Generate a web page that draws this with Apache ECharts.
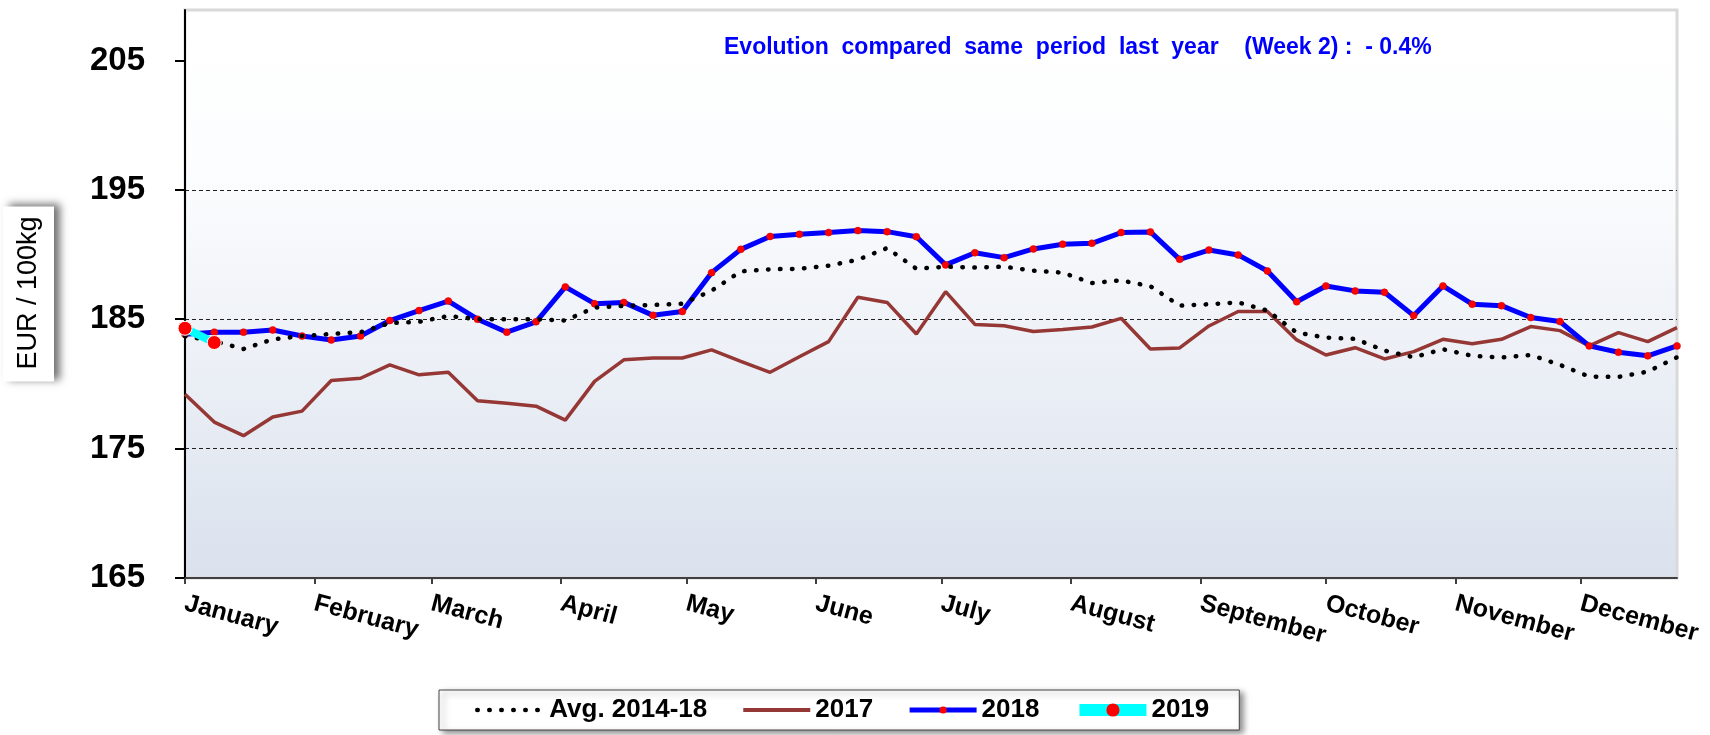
<!DOCTYPE html>
<html>
<head>
<meta charset="utf-8">
<title>EUR / 100kg</title>
<script src="https://cdn.jsdelivr.net/npm/echarts@6/dist/echarts.min.js"></script>
<style>
  html, body { margin: 0; padding: 0; background: #fff; }
  #chart { width: 1710px; height: 735px; }
</style>
</head>
<body>
<div id="chart"></div>
<script>
// weekly prices EUR / 100kg, week 1 .. 52
var avg1418 = [183.7, 183.3, 182.7, 183.45, 183.7, 183.86, 184.0, 184.7, 184.8, 185.25,
  185.0, 185.0, 185.0, 184.9, 185.9, 186.03, 186.1, 186.2, 187.2, 188.7,
  188.86, 188.9, 189.14, 189.6, 190.5, 188.9, 189.06, 189.0, 189.06, 188.75,
  188.6, 187.8, 188.0, 187.55, 186.05, 186.16, 186.3, 185.67, 183.97, 183.58,
  183.48, 182.58, 182.06, 182.68, 182.17, 182.04, 182.24, 181.47, 180.57, 180.54,
  180.95, 182.06];
var y2017 = [179.2, 177.05, 176.0, 177.45, 177.9, 180.26, 180.44, 181.47, 180.7, 180.9,
  178.7, 178.5, 178.28, 177.2, 180.2, 181.86, 182.0, 182.0, 182.63, 181.75,
  180.9, 182.1, 183.27, 186.7, 186.3, 183.86, 187.13, 184.6, 184.5, 184.05,
  184.2, 184.4, 185.07, 182.7, 182.78, 184.48, 185.6, 185.6, 183.4, 182.24,
  182.8, 181.93, 182.5, 183.45, 183.1, 183.45, 184.43, 184.12, 182.94, 183.97,
  183.27, 184.35];
var y2018 = [183.84, 184.0, 184.0, 184.17, 183.7, 183.4, 183.7, 184.9, 185.67, 186.4,
  185.0, 184.0, 184.8, 187.5, 186.2, 186.3, 185.3, 185.6, 188.6, 190.4,
  191.4, 191.56, 191.7, 191.85, 191.77, 191.38, 189.2, 190.14, 189.76, 190.43,
  190.8, 190.87, 191.7, 191.75, 189.63, 190.35, 189.97, 188.73, 186.35, 187.57,
  187.19, 187.08, 185.28, 187.57, 186.16, 186.05, 185.13, 184.82, 182.94, 182.45,
  182.17, 182.94];
var y2019 = [184.3, 183.2];

var monthNames = ['January', 'February', 'March', 'April', 'May', 'June',
  'July', 'August', 'September', 'October', 'November', 'December'];
var monthStartDay = [0, 31, 59, 90, 120, 151, 181, 212, 243, 273, 304, 334];
var yTicks = [165, 175, 185, 195, 205];

var FONT = 'Liberation Sans, Arial, sans-serif';

// x axis runs in weeks, month ticks at the first day of each month
var monthPos = monthStartDay.map(function (d) { return d / 7; });
var toPoints = function (arr) {
  return arr.map(function (v, i) { return [i, v]; });
};

var chart = echarts.init(document.getElementById('chart'));

chart.setOption({
  animation: false,
  title: {
    text: 'Evolution  compared  same  period  last  year    (Week 2) :  - 0.4%',
    left: 719,
    top: 31,
    textStyle: { color: '#0000ff', fontSize: 23, fontWeight: 'bold', fontFamily: FONT }
  },
  legend: {
    // legend icons: hide the point on the plain lines, size the dots with a border
    data: [
      { name: 'Avg. 2014-18', itemStyle: { opacity: 0 }, lineStyle: { width: 4.5 } },
      { name: '2017', itemStyle: { opacity: 0 }, lineStyle: { width: 4 } },
      { name: '2018', itemStyle: { borderWidth: 0 }, lineStyle: { width: 5 } },
      { name: '2019', itemStyle: { borderColor: '#ff0000', borderWidth: 6 }, lineStyle: { width: 12 } }
    ],
    left: 439,
    top: 690,
    padding: [7, 30, 7, 36],
    itemGap: 34,
    itemWidth: 67,
    itemHeight: 9,
    backgroundColor: '#fff',
    borderColor: '#444',
    borderWidth: 1,
    shadowColor: 'rgba(0,0,0,0.45)',
    shadowBlur: 6,
    shadowOffsetX: 4,
    shadowOffsetY: 3,
    textStyle: { color: '#000', fontSize: 26, fontWeight: 'bold', fontFamily: FONT }
  },
  grid: {
    left: 185,
    right: 33,
    top: 10,
    bottom: 157,
    outerBoundsMode: 'none',
    show: true,
    borderColor: '#d9d9d9',
    borderWidth: 3,
    backgroundColor: new echarts.graphic.LinearGradient(0, 0, 0, 1, [
      { offset: 0, color: '#ffffff' },
      { offset: 0.28, color: '#fcfdfe' },
      { offset: 1, color: '#dae1ed' }
    ])
  },
  xAxis: {
    type: 'value',
    min: 0,
    max: 51,
    splitLine: { show: false },
    axisLine: { show: true, lineStyle: { color: '#404040', width: 2 } },
    axisTick: { show: true, length: 6, customValues: monthPos, lineStyle: { color: '#404040', width: 2 } },
    axisLabel: {
      customValues: monthPos,
      rotate: -15,
      margin: 25,
      color: '#000',
      fontSize: 25,
      fontWeight: 'bold',
      fontFamily: FONT,
      formatter: function (v) {
        for (var i = 0; i < monthPos.length; i++) {
          if (Math.abs(monthPos[i] - v) < 1e-6) return monthNames[i];
        }
        return '';
      }
    }
  },
  yAxis: {
    type: 'value',
    min: 165,
    max: 208.9,
    interval: 10,
    name: 'EUR / 100kg',
    nameLocation: 'middle',
    nameRotate: 90,
    nameGap: 131,
    nameTextStyle: {
      color: '#000',
      fontSize: 27,
      fontFamily: FONT,
      backgroundColor: '#fff',
      padding: [12, 10, 12, 12],
      shadowColor: 'rgba(0,0,0,0.55)',
      shadowBlur: 8,
      shadowOffsetX: 6,
      shadowOffsetY: -2
    },
    axisLine: { show: true, lineStyle: { color: '#000', width: 2 } },
    axisTick: { show: true, length: 10, customValues: yTicks, lineStyle: { color: '#000', width: 2 } },
    axisLabel: {
      showMaxLabel: false,
      margin: 40,
      color: '#000',
      fontSize: 33,
      fontWeight: 'bold',
      fontFamily: FONT
    },
    splitLine: {
      show: true,
      showMinLine: false,
      showMaxLine: false,
      lineStyle: { color: '#222', width: 1, type: [4, 3] }
    }
  },
  series: [
    {
      name: '2017',
      type: 'line',
      z: 2,
      data: toPoints(y2017),
      showSymbol: false,
      symbol: 'none',
      lineStyle: { color: '#953735', width: 3.5 },
      itemStyle: { color: '#953735' }
    },
    {
      name: '2018',
      type: 'line',
      z: 3,
      data: toPoints(y2018),
      symbol: 'circle',
      symbolSize: 7,
      lineStyle: { color: '#0000ff', width: 5 },
      itemStyle: { color: '#ff0000', borderColor: '#d00000', borderWidth: 0.5 }
    },
    {
      name: 'Avg. 2014-18',
      type: 'line',
      z: 4,
      data: toPoints(avg1418),
      showSymbol: false,
      symbol: 'none',
      lineStyle: { color: '#000', width: 4.5, type: [0.5, 11.5], cap: 'round' },
      itemStyle: { color: '#000' }
    },
    {
      name: '2019',
      type: 'line',
      z: 5,
      data: toPoints(y2019),
      symbol: 'circle',
      symbolSize: 14,
      lineStyle: { color: '#00ffff', width: 8 },
      itemStyle: { color: '#ff0000', borderColor: '#fff', borderWidth: 1 }
    }
  ]
});
</script>
</body>
</html>
